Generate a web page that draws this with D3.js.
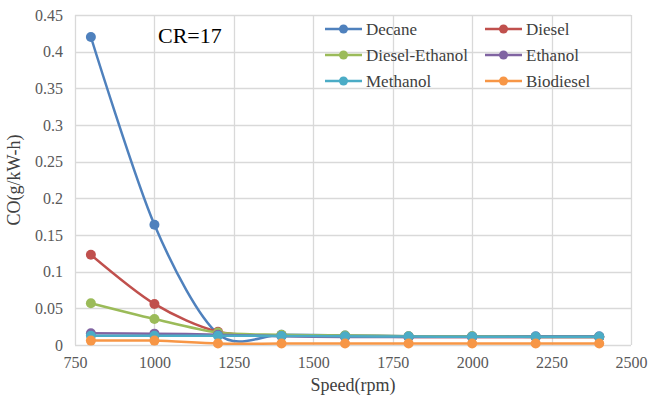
<!DOCTYPE html>
<html lang="en">
<head>
<meta charset="UTF-8" />
<title>CO vs Speed</title>
<script src="https://d3js.org/d3.v7.min.js"></script>
<style>
    body { margin: 0; background: #fff; }
</style>
</head>
<body>
<script>
    // Data
    var speed = [800, 1000, 1200, 1400, 1600, 1800, 2000, 2200, 2400];
    var decane = [0.42, 0.164, 0.015, 0.014, 0.013, 0.012, 0.012, 0.012, 0.012];
    var diesel = [0.123, 0.056, 0.018, 0.013, 0.012, 0.011, 0.011, 0.011, 0.011];
    var dieselEthanol = [0.057, 0.0355, 0.017, 0.014, 0.013, 0.012, 0.012, 0.011, 0.011];
    var ethanol = [0.016, 0.0155, 0.014, 0.012, 0.011, 0.011, 0.011, 0.011, 0.011];
    var methanol = [0.0127, 0.0127, 0.0127, 0.0123, 0.012, 0.0115, 0.0113, 0.0113, 0.0113];
    var biodiesel = [0.006, 0.006, 0.002, 0.002, 0.002, 0.002, 0.002, 0.002, 0.002];

    var seriesNames = ["Decane", "Diesel", "Diesel-Ethanol", "Ethanol", "Methanol", "Biodiesel"];
    var seriesValues = [decane, diesel, dieselEthanol, ethanol, methanol, biodiesel];
    var colors = ["#4F81BD", "#C0504D", "#9BBB59", "#8064A2", "#4BACC6", "#F79646"];

    var xTicks = [750, 1000, 1250, 1500, 1750, 2000, 2250, 2500];
    var yTicks = [0, 0.05, 0.1, 0.15, 0.2, 0.25, 0.3, 0.35, 0.4, 0.45];

    var w = 649, h = 398;
    var padL = 75, padR = 631, padT = 15, padB = 345;
    var serif = "Liberation Serif";

    var svg = d3.select("body").append("svg")
        .attr("width", w)
        .attr("height", h)
        .style("font-family", serif);

    var xScale = d3.scaleLinear().domain([750, 2500]).range([padL, padR]);
    var yScale = d3.scaleLinear().domain([0, 0.45]).range([padB, padT]);

    // gridlines
    svg.append("g").selectAll("line")
        .data(yTicks)
        .enter().append("line")
        .attr("x1", padL).attr("x2", padR)
        .attr("y1", function (d) { return Math.round(yScale(d)) + 0.5; })
        .attr("y2", function (d) { return Math.round(yScale(d)) + 0.5; })
        .style("stroke", "#d9d9d9").style("stroke-width", 1.3);

    svg.append("g").selectAll("line")
        .data(xTicks)
        .enter().append("line")
        .attr("y1", padT).attr("y2", padB)
        .attr("x1", function (d) { return Math.round(xScale(d)) + 0.5; })
        .attr("x2", function (d) { return Math.round(xScale(d)) + 0.5; })
        .style("stroke", "#d9d9d9").style("stroke-width", 1.3);

    // axes (labels only, Excel-like)
    var xAxis = svg.append("g")
        .attr("transform", "translate(0," + (padB + 6) + ")")
        .call(d3.axisBottom(xScale).tickValues(xTicks).tickSize(0).tickPadding(6)
            .tickFormat(d3.format("d")));
    xAxis.select(".domain").remove();
    xAxis.attr("font-family", null).attr("font-size", null);
    xAxis.selectAll("text").style("font-family", serif).style("font-size", "16px").attr("fill", "#595959");

    var yAxis = svg.append("g")
        .attr("transform", "translate(" + (padL - 12) + ",0)")
        .call(d3.axisLeft(yScale).tickValues(yTicks).tickSize(0).tickPadding(0)
            .tickFormat(function (d) { return String(+d.toFixed(2)); }));
    yAxis.select(".domain").remove();
    yAxis.attr("font-family", null).attr("font-size", null);
    yAxis.selectAll("text").style("font-family", serif).style("font-size", "16px").attr("fill", "#595959");

    // axis titles
    svg.append("text")
        .attr("text-anchor", "middle")
        .attr("x", (padL + padR) / 2)
        .attr("y", 391)
        .style("font-family", serif)
        .style("font-size", "18px")
        .attr("fill", "#404040")
        .text("Speed(rpm)");

    svg.append("text")
        .attr("text-anchor", "middle")
        .attr("transform", "rotate(-90)")
        .attr("x", -(padT + padB) / 2)
        .attr("y", 20)
        .style("font-family", serif)
        .style("font-size", "18px")
        .attr("fill", "#404040")
        .text("CO(g/kW-h)");

    // CR label
    svg.append("text")
        .attr("x", 158)
        .attr("y", 43)
        .style("font-family", serif)
        .style("font-size", "22px")
        .attr("fill", "#000")
        .text("CR=17");

    // series
    var line = d3.line()
        .x(function (d, i) { return xScale(speed[i]); })
        .y(function (d) { return yScale(d); })
        .curve(d3.curveCardinal.tension(0.1));

    seriesValues.forEach(function (vals, k) {
        var g = svg.append("g");
        g.append("path")
            .datum(vals)
            .attr("d", line)
            .style("fill", "none")
            .style("stroke", colors[k])
            .style("stroke-width", 2.5);
        g.selectAll("circle")
            .data(vals)
            .enter().append("circle")
            .attr("cx", function (d, i) { return xScale(speed[i]); })
            .attr("cy", function (d) { return yScale(d); })
            .attr("r", 5)
            .style("fill", colors[k]);
    });

    // legend
    var legend = svg.append("g");
    seriesNames.forEach(function (name, k) {
        var col = k % 2, row = Math.floor(k / 2);
        var lx = 325 + col * 160, ly = 29 + row * 26;
        legend.append("line")
            .attr("x1", lx).attr("x2", lx + 37)
            .attr("y1", ly).attr("y2", ly)
            .style("stroke", colors[k]).style("stroke-width", 2.5);
        legend.append("circle")
            .attr("cx", lx + 18.5).attr("cy", ly).attr("r", 4.5)
            .style("fill", colors[k]);
        legend.append("text")
            .attr("x", lx + 41).attr("y", ly + 6)
            .style("font-family", serif)
            .style("font-size", "17px")
            .attr("fill", "#404040")
            .text(name);
    });
</script>
</body>
</html>
